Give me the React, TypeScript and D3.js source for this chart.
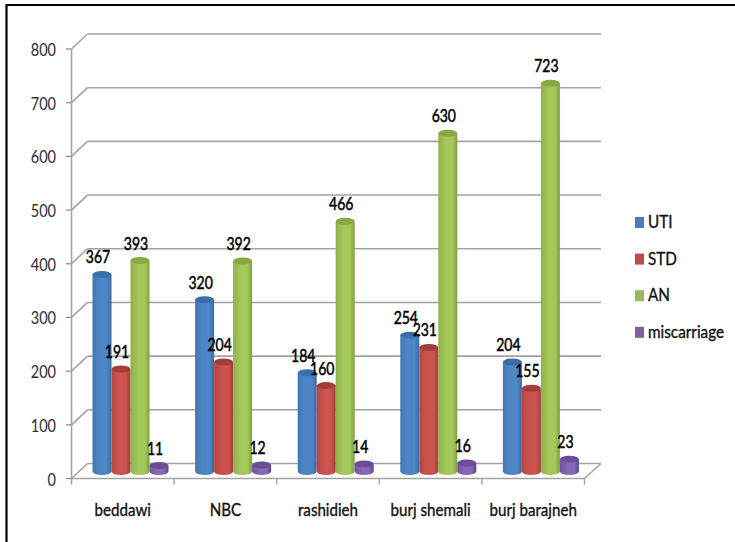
import React from "react";
import * as d3 from "d3";

const categories = ["beddawi", "NBC", "rashidieh", "burj shemali", "burj barajneh"];
const seriesNames = ["UTI", "STD", "AN", "miscarriage"];
const uti = [367, 320, 184, 254, 204];
const std = [191, 204, 160, 231, 155];
const an = [393, 392, 466, 630, 723];
const miscarriage = [11, 12, 14, 16, 23];
const yTicks = [0, 100, 200, 300, 400, 500, 600, 700, 800];
const seriesValues = [uti, std, an, miscarriage];
const colors = [
  { dark: "#3a6aa3", mid: "#4f86c6", light: "#4277b4", top: "#3a6ea8" },
  { dark: "#a03c39", mid: "#cc5450", light: "#b64643", top: "#a53c39" },
  { dark: "#7f9f40", mid: "#a4c85c", light: "#8fb04a", top: "#87a843" },
  { dark: "#5f4489", mid: "#8a68b8", light: "#7252a0", top: "#6b4c96" },
];
const legendColors = ["#4a7ebb", "#be4b48", "#98b954", "#7d60a0"];
const font = "Lato, 'Open Sans', sans-serif";

function Label({ x, y, anchor = "middle", size, sx, fill = "#111", weight = 0.35, children }: any) {
  return (
    <text
      transform={`translate(${x},${y}) scale(${sx},1)`}
      textAnchor={anchor}
      fontFamily={font}
      fontSize={size}
      fill={fill}
      stroke={fill}
      strokeWidth={weight}
    >
      {children}
    </text>
  );
}

export default function App() {
  const W = 735, H = 542;
  const depthX = 16, depthY = -15;
  const y = d3.scaleLinear().domain([0, 800]).range([478.5, 49]);
  const x0 = d3.scaleBand().domain(categories).range([71.5, 584.5]);
  const inner = d3.scaleBand().domain(seriesNames).range([21, 97]);
  const h = (v: number) => y(0) - y(v);
  const baseY = y(0) - 7;

  return (
    <svg width={W} height={H} viewBox={`0 0 ${W} ${H}`} style={{ position: "absolute", left: 0, top: 0, background: "#fff" }}>
      <defs>
        {colors.map((c, i) => (
          <linearGradient key={i} id={`g${i}`} x1="0" x2="1" y1="0" y2="0">
            <stop offset="0" stopColor={c.light} />
            <stop offset="0.4" stopColor={c.mid} />
            <stop offset="0.75" stopColor={c.mid} />
            <stop offset="1" stopColor={c.dark} />
          </linearGradient>
        ))}
      </defs>
      <path d={`M6.5,${H + 5} V5 H${W + 5}`} fill="none" stroke="#000" strokeWidth={2.2} />

      {yTicks.map((t) => (
        <g key={t}>
          <line x1={71.5} x2={71.5 + depthX} y1={y(t)} y2={y(t) + depthY} stroke="#a3a3a3" strokeWidth={1.6} />
          <line x1={71.5 + depthX} x2={601} y1={y(t) + depthY} y2={y(t) + depthY} stroke="#a3a3a3" strokeWidth={1.6} />
          <line x1={66} x2={71.5} y1={y(t)} y2={y(t)} stroke="#888" strokeWidth={1.2} />
          <Label x={56} y={y(t) + 7} anchor="end" size={17.5} sx={0.83} fill="#333" weight={0.1}>{t}</Label>
        </g>
      ))}
      <line x1={71.5} x2={71.5} y1={y(800)} y2={y(0) + 6} stroke="#a3a3a3" strokeWidth={1.6} />
      <line x1={71.5} x2={584.5} y1={y(0)} y2={y(0)} stroke="#a3a3a3" strokeWidth={1.6} />
      <line x1={584.5} x2={601} y1={y(0)} y2={y(0) + depthY} stroke="#a3a3a3" strokeWidth={1.6} />
      {d3.range(1, 6).map((i) => {
        const px = 71.5 + (i * (584.5 - 71.5)) / 5;
        return <line key={i} x1={px} x2={px} y1={y(0)} y2={y(0) + 6} stroke="#a3a3a3" strokeWidth={1.4} />;
      })}

      {categories.map((c, ci) => (
        <g key={c}>
          {seriesNames.map((s, si) => {
            const v = seriesValues[si][ci];
            const bx = x0(c)! + inner(s)!;
            const bw = inner.bandwidth();
            const topY = baseY - h(v);
            const rx = bw / 2;
            const ry = 3.5;
            const d = `M${bx},${topY} L${bx},${baseY} A${rx},${ry} 0 0 0 ${bx + bw},${baseY} L${bx + bw},${topY} Z`;
            return (
              <g key={s}>
                <path d={d} fill={`url(#g${si})`} />
                <ellipse cx={bx + rx} cy={topY} rx={rx} ry={ry} fill={colors[si].top} />
              </g>
            );
          })}
        </g>
      ))}
      {categories.map((c, ci) =>
        seriesNames.map((s, si) => {
          const v = seriesValues[si][ci];
          const cx = x0(c)! + inner(s)! + inner.bandwidth() / 2 - 4;
          const topY = baseY - h(v);
          return <Label key={s} x={cx} y={topY - 11} size={17.5} sx={0.8} fill="#000" weight={0.5}>{v}</Label>;
        })
      )}
      {categories.map((c) => (
        <Label key={c} x={x0(c)! + x0.bandwidth() / 2} y={516} size={17} sx={0.89}>{c}</Label>
      ))}
      {seriesNames.map((s, i) => {
        const ly = 217 + i * 36.6;
        return (
          <g key={s}>
            <rect x={635} y={ly} width={9} height={11} fill={legendColors[i]} />
            <Label x={648} y={ly + 11} anchor="start" size={17} sx={0.9}>{s}</Label>
          </g>
        );
      })}
    </svg>
  );
}
